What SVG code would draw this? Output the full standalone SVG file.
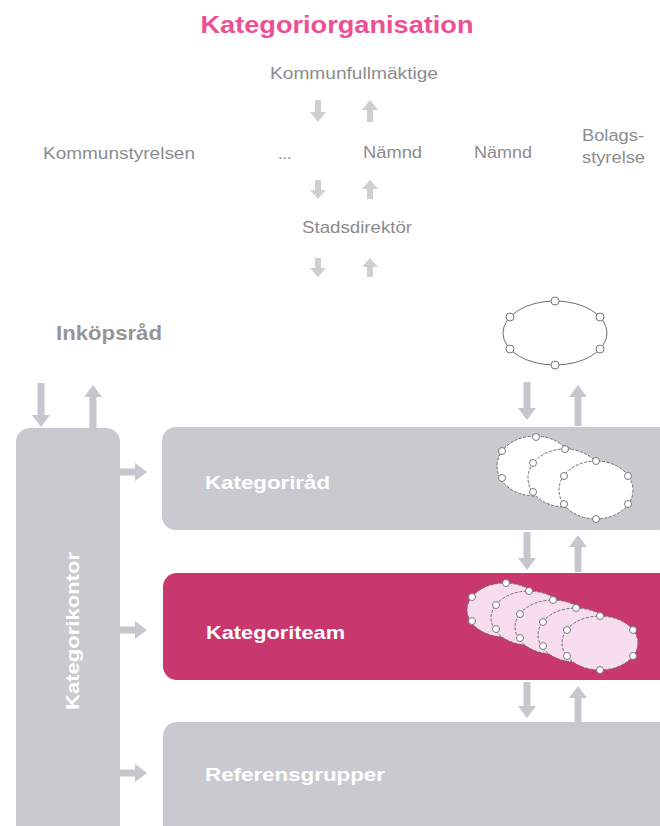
<svg xmlns="http://www.w3.org/2000/svg" width="660" height="826" viewBox="0 0 660 826">
<style>
.t{font-family:"Liberation Sans",Arial,sans-serif;fill:#8c8c8e;font-size:16px}
.tb{font-family:"Liberation Sans",Arial,sans-serif;font-weight:bold}
.w{fill:#ffffff;font-size:19px}
.box{fill:#c9c9cf}
.pink{fill:#c9376f}
.arr{fill:#c6c6cc}
.sarr{fill:#cfcfd3}
.el{fill:#ffffff;stroke:#6f6f6f;stroke-width:1;stroke-dasharray:3 1.5}
.elp{fill:#f8dcef;stroke:#6f6f6f;stroke-width:1;stroke-dasharray:3 1.5}
.c{fill:#ffffff;stroke:#7a7a7a;stroke-width:1}
</style>
<rect width="660" height="826" fill="#ffffff"/>
<text class="tb" x="337" y="33" text-anchor="middle" font-size="24" fill="#ec4f93" textLength="273" lengthAdjust="spacingAndGlyphs">Kategoriorganisation</text>

<g id="kommunfullmaktige"><text class="t" x="270" y="79" textLength="168" lengthAdjust="spacingAndGlyphs">Kommunfullmäktige</text></g>
<g id="kommunstyrelsen"><text class="t" x="43" y="159" textLength="152" lengthAdjust="spacingAndGlyphs">Kommunstyrelsen</text></g>
<g id="dots"><text class="t" x="278" y="159" font-size="11" fill="#a8a8aa">...</text></g>
<g id="namnd1"><text class="t" x="363" y="158" textLength="59" lengthAdjust="spacingAndGlyphs">Nämnd</text></g>
<g id="namnd2"><text class="t" x="474" y="158" textLength="58" lengthAdjust="spacingAndGlyphs">Nämnd</text></g>
<g id="bolagsstyrelse"><text class="t" x="582" y="141" textLength="62" lengthAdjust="spacingAndGlyphs">Bolags-</text><text class="t" x="582" y="163" textLength="63" lengthAdjust="spacingAndGlyphs">styrelse</text></g>
<g id="stadsdirektor"><text class="t" x="302" y="233" textLength="110" lengthAdjust="spacingAndGlyphs">Stadsdirektör</text></g>
<g id="inkopsrad"><text class="tb" x="56" y="340" font-size="21" fill="#959597" textLength="106" lengthAdjust="spacingAndGlyphs">Inköpsråd</text></g>

<g id="ellipse-top">
<ellipse cx="555" cy="333" rx="52" ry="32" fill="none" stroke="#6f6f6f" stroke-width="1"/>
<circle class="c" cx="555" cy="301" r="4"/><circle class="c" cx="555" cy="365" r="4"/>
<circle class="c" cx="510" cy="317" r="4"/><circle class="c" cx="510" cy="349" r="4"/>
<circle class="c" cx="600" cy="317" r="4"/><circle class="c" cx="600" cy="349" r="4"/>
</g>

<g id="kategorikontor">
<rect class="box" x="16" y="428" width="104" height="420" rx="14"/>
<text class="tb w" transform="translate(79,631) rotate(-90)" text-anchor="middle" textLength="158" lengthAdjust="spacingAndGlyphs">Kategorikontor</text>
</g>

<g id="kategorirad">
<rect class="box" x="162" y="427" width="510" height="103" rx="14"/>
<text class="tb w" x="205" y="489" textLength="125" lengthAdjust="spacingAndGlyphs">Kategoriråd</text>
<ellipse class="el" cx="535" cy="466" rx="38" ry="30"/>
<circle class="c" cx="536" cy="437" r="3.5"/><circle class="c" cx="502" cy="451" r="3.5"/><circle class="c" cx="502" cy="478" r="3.5"/><circle class="c" cx="568" cy="451" r="3.5"/>
<ellipse class="el" cx="565" cy="478" rx="37" ry="29"/>
<circle class="c" cx="565" cy="449" r="3.5"/><circle class="c" cx="533" cy="463" r="3.5"/><circle class="c" cx="533" cy="492" r="3.5"/><circle class="c" cx="597" cy="463" r="3.5"/>
<ellipse class="el" cx="596" cy="490" rx="37" ry="29"/>
<circle class="c" cx="596" cy="461" r="3.5"/><circle class="c" cx="596" cy="519" r="3.5"/><circle class="c" cx="564" cy="476" r="3.5"/><circle class="c" cx="564" cy="504" r="3.5"/><circle class="c" cx="628" cy="476" r="3.5"/><circle class="c" cx="628" cy="504" r="3.5"/>
</g>

<g id="kategoriteam">
<rect class="pink" x="163" y="573" width="510" height="107" rx="14"/>
<text class="tb w" x="206" y="639" textLength="139" lengthAdjust="spacingAndGlyphs">Kategoriteam</text>
<ellipse class="elp" cx="505" cy="610" rx="38" ry="27"/>
<circle class="c" cx="506" cy="583" r="3.5"/><circle class="c" cx="472" cy="597" r="3.5"/><circle class="c" cx="472" cy="621" r="3.5"/>
<ellipse class="elp" cx="529" cy="618" rx="38" ry="27"/>
<circle class="c" cx="529" cy="591" r="3.5"/><circle class="c" cx="496" cy="605" r="3.5"/><circle class="c" cx="496" cy="629" r="3.5"/>
<ellipse class="elp" cx="553" cy="627" rx="38" ry="27"/>
<circle class="c" cx="553" cy="600" r="3.5"/><circle class="c" cx="520" cy="614" r="3.5"/><circle class="c" cx="520" cy="638" r="3.5"/>
<ellipse class="elp" cx="576" cy="635" rx="38" ry="27"/>
<circle class="c" cx="576" cy="608" r="3.5"/><circle class="c" cx="543" cy="622" r="3.5"/><circle class="c" cx="543" cy="646" r="3.5"/>
<ellipse class="elp" cx="600" cy="643" rx="38" ry="27"/>
<circle class="c" cx="600" cy="616" r="3.5"/><circle class="c" cx="600" cy="670" r="3.5"/><circle class="c" cx="567" cy="630" r="3.5"/><circle class="c" cx="567" cy="656" r="3.5"/><circle class="c" cx="633" cy="630" r="3.5"/><circle class="c" cx="633" cy="656" r="3.5"/>
</g>

<g id="referensgrupper">
<rect class="box" x="163" y="722" width="510" height="130" rx="14"/>
<text class="tb w" x="205" y="781" textLength="180" lengthAdjust="spacingAndGlyphs">Referensgrupper</text>
</g>

<g id="connectors">
<polygon class="sarr" points="315,100 321,100 321,112 326,112 318,122 310,112 315,112"/>
<polygon class="sarr" points="367,122 373,122 373,110 378,110 370,100 362,110 367,110"/>
<polygon class="sarr" points="315,180 321,180 321,190 326,190 318,199 310,190 315,190"/>
<polygon class="sarr" points="367,199 373,199 373,189 378,189 370,180 362,189 367,189"/>
<polygon class="sarr" points="315,258 321,258 321,268 326,268 318,277 310,268 315,268"/>
<polygon class="sarr" points="367,277 373,277 373,267 378,267 370,258 362,267 367,267"/>

<polygon class="arr" points="37.5,383 44.5,383 44.5,415 50,415 41,427 32,415 37.5,415"/>
<polygon class="arr" points="89.5,428 96.5,428 96.5,397 102,397 93,385 84,397 89.5,397"/>

<polygon class="arr" points="120,468.5 135,468.5 135,463 147,472 135,481 135,475.5 120,475.5"/>
<polygon class="arr" points="120,626.5 135,626.5 135,621 147,630 135,639 135,633.5 120,633.5"/>
<polygon class="arr" points="120,769.5 135,769.5 135,764 147,773 135,782 135,776.5 120,776.5"/>

<polygon class="arr" points="523.5,382 530.5,382 530.5,408 536,408 527,420 518,408 523.5,408"/>
<polygon class="arr" points="574.5,426 581.5,426 581.5,397 587,397 578,385 569,397 574.5,397"/>
<polygon class="arr" points="523.5,532 530.5,532 530.5,558 536,558 527,570 518,558 523.5,558"/>
<polygon class="arr" points="574.5,572 581.5,572 581.5,547 587,547 578,535 569,547 574.5,547"/>
<polygon class="arr" points="523.5,682 530.5,682 530.5,706 536,706 527,718 518,706 523.5,706"/>
<polygon class="arr" points="574.5,722 581.5,722 581.5,698 587,698 578,686 569,698 574.5,698"/>
</g>
</svg>
